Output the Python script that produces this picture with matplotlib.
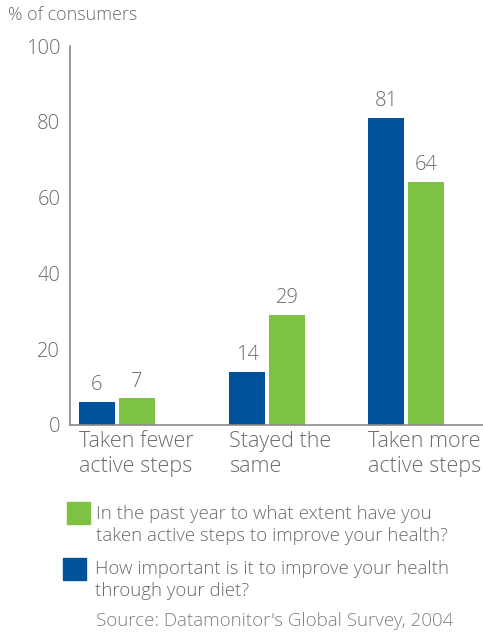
import matplotlib.pyplot as plt
from matplotlib.patches import Rectangle

plt.rcParams['font.family'] = ['Open Sans', 'DejaVu Sans']

categories = ['Taken fewer\nactive steps', 'Stayed the\nsame', 'Taken more\nactive steps']
important = [6, 14, 81]
active_steps = [7, 29, 64]
yticks = [0, 20, 40, 60, 80, 100]

legend_green = 'In the past year to what extent have you\ntaken active steps to improve your health?'
legend_blue = 'How important is it to improve your health\nthrough your diet?'
source = "Source: Datamonitor's Global Survey, 2004"

blue = '#00539b'
green = '#7dc242'
grey = '#6b6b6b'

# group centres along the x axis (in axis units)
centres = [47, 197, 336]
width = 36

fig = plt.figure(figsize=(4.83, 6.34), dpi=100)
ax = fig.add_axes([70 / 483, 209 / 634, 413 / 483, 379 / 634])

for i, c in enumerate(centres):
    bb = ax.bar(c - 20, important[i], width, color=blue)
    gb = ax.bar(c + 20, active_steps[i], width, color=green)
    for b, v in ((bb[0], important[i]), (gb[0], active_steps[i])):
        ax.annotate(str(v), (b.get_x() + b.get_width() / 2, v),
                    xytext=(0, 5), textcoords='offset points',
                    ha='center', va='bottom', fontsize=14.5,
                    color=grey, fontweight='light')
    ax.text(c - 20 - width / 2, -1.5, categories[i], ha='left', va='top',
            fontsize=15.5, color=grey, fontweight='light', linespacing=1.3)

ax.set_xlim(0, 413)
ax.set_ylim(0, 100)
ax.set_xticks([])
ax.set_yticks(yticks)
ax.tick_params(axis='y', length=0, pad=7, labelsize=14.5, labelcolor=grey)
for lab in ax.get_yticklabels():
    lab.set_fontweight('light')

for s in ['top', 'right']:
    ax.spines[s].set_visible(False)
for s in ['left', 'bottom']:
    ax.spines[s].set_color('#8a8a8a')
    ax.spines[s].set_linewidth(1.2)

fig.text(8 / 483, 1 - 15 / 634, '% of consumers', ha='left', va='center',
         fontsize=12.9, color=grey, fontweight='light')

# legend drawn by hand so the swatches sit beside wrapped text
fig.add_artist(Rectangle((67 / 483, 1 - 524 / 634), 23 / 483, 22 / 634,
                         transform=fig.transFigure, color=green))
fig.add_artist(Rectangle((63 / 483, 1 - 580 / 634), 23 / 483, 22 / 634,
                         transform=fig.transFigure, color=blue))
fig.text(96 / 483, 1 - 525 / 634, legend_green, ha='left', va='center',
         fontsize=13.4, color=grey, fontweight='light', linespacing=1.28)
fig.text(95 / 483, 1 - 580 / 634, legend_blue, ha='left', va='center',
         fontsize=13.4, color=grey, fontweight='light', linespacing=1.28)
fig.text(96 / 483, 1 - 621 / 634, source, ha='left', va='center',
         fontsize=13.5, color='#808080', fontweight='light')

fig.savefig('out.png', dpi=100)
